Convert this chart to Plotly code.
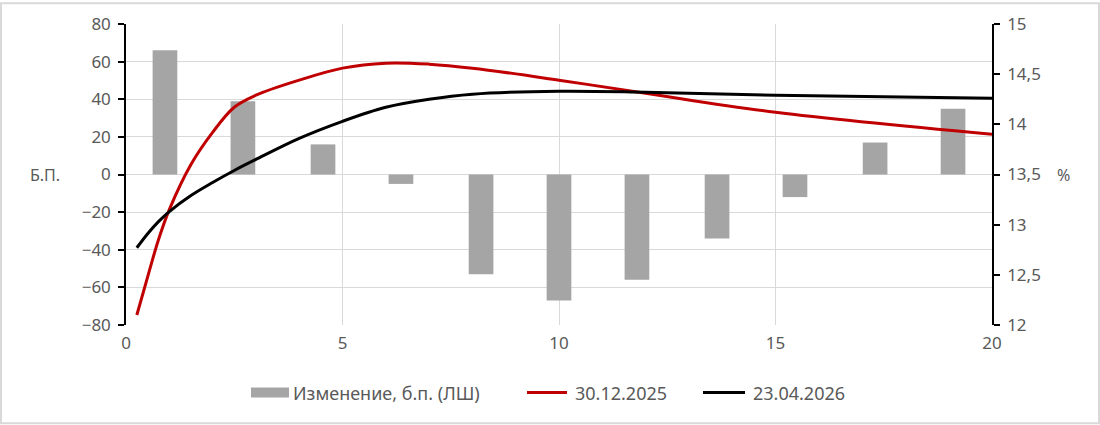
import plotly.graph_objects as go

# срок, лет
tenor = [0.25, 0.5, 0.75, 1, 1.5, 2, 2.5, 3, 4, 5, 6, 7, 8, 10, 12, 15, 20]
# кривые, %
curve_dec = [12.10, 12.48, 12.85, 13.15, 13.60, 13.92, 14.17, 14.29, 14.44, 14.56,
             14.61, 14.60, 14.56, 14.44, 14.31, 14.12, 13.90]
curve_apr = [12.77, 12.91, 13.03, 13.13, 13.29, 13.42, 13.54, 13.65, 13.86, 14.03,
             14.17, 14.25, 14.30, 14.33, 14.32, 14.29, 14.26]

# изменение, б.п. (середины корзин сроков)
bucket_mid = [0.9, 2.7, 4.55, 6.35, 8.2, 10.0, 11.8, 13.65, 15.45, 17.3, 19.1]
change_bp = [66, 39, 16, -5, -53, -67, -56, -34, -12, 17, 35]

names = ['Изменение, б.п. (ЛШ)', '30.12.2025', '23.04.2026']
colors = ['#a5a5a5', '#c00000', '#000000']

grid = '#d9d9d9'
txt = '#595959'
fnt = 'Noto Sans'

bars = go.Bar(x=bucket_mid, y=change_bp, xaxis='x', yaxis='y', width=0.57,
              marker=dict(color=colors[0], line=dict(width=0)), name=names[0])
red = go.Scatter(x=tenor, y=curve_dec, xaxis='x', yaxis='y2', mode='lines',
                 line=dict(color=colors[1], width=3, shape='spline', smoothing=1),
                 name=names[1])
black = go.Scatter(x=tenor, y=curve_apr, xaxis='x', yaxis='y2', mode='lines',
                   line=dict(color=colors[2], width=3, shape='spline', smoothing=1),
                   name=names[2])

W, H = 1100, 425
ml, mr, mt, mb = 126, 108, 22, 100
pw, ph = W - ml - mr, H - mt - mb


def px(x):
    return (x - ml) / pw


def py(y):
    return (H - mb - y) / ph


# легенда вручную: (начало ключа, конец ключа, начало подписи) в пикселях
leg_y = 393
keys = [(251, 289, 293), (527, 567, 575), (703, 745, 753)]
shapes = [
    # рамка вокруг всей картинки
    dict(type='rect', xref='paper', yref='paper', layer='below',
         x0=px(1), x1=px(W - 1), y0=py(H - 1), y1=py(1),
         line=dict(color=grid, width=2), fillcolor='rgba(0,0,0,0)'),
    dict(type='rect', xref='paper', yref='paper', x0=px(keys[0][0]), x1=px(keys[0][1]),
         y0=py(leg_y + 5), y1=py(leg_y - 5), line=dict(width=0), fillcolor=colors[0]),
]
for (a, b, _), c in zip(keys[1:], colors[1:]):
    shapes.append(dict(type='line', xref='paper', yref='paper', x0=px(a), x1=px(b),
                       y0=py(leg_y), y1=py(leg_y), line=dict(color=c, width=3)))

annotations = [
    dict(text='Б.П.', xref='paper', yref='y', x=px(45), y=0, xanchor='center',
         yanchor='middle', showarrow=False, font=dict(family=fnt, size=16, color=txt)),
    dict(text='%', xref='paper', yref='y', x=px(1063), y=0, xanchor='center',
         yanchor='middle', showarrow=False, font=dict(family=fnt, size=16, color=txt)),
]
for (a, b, t), n in zip(keys, names):
    annotations.append(dict(text=n, xref='paper', yref='paper', x=px(t), y=py(leg_y),
                            xanchor='left', yanchor='middle', showarrow=False,
                            xshift=-2, font=dict(family=fnt, size=18, color=txt)))

layout = go.Layout(
    width=W, height=H,
    margin=dict(l=ml, r=mr, t=mt, b=mb),
    paper_bgcolor='white', plot_bgcolor='white',
    separators=', ',
    font=dict(family=fnt, size=17, color=txt),
    showlegend=False,
    xaxis=dict(range=[0, 20], tickvals=[0, 5, 10, 15, 20], showgrid=True, gridcolor=grid,
               gridwidth=1, zeroline=False, showline=False, ticks='', ticklabelstandoff=6),
    yaxis=dict(range=[-80, 80], dtick=20, showgrid=True, gridcolor=grid, zeroline=False,
               showline=True, linecolor='#000000', linewidth=1.5, ticks='outside',
               ticklen=6, tickcolor='#000000', tickwidth=1.5, ticklabelstandoff=4),
    yaxis2=dict(range=[12, 15], dtick=0.5, overlaying='y', side='right', anchor='x',
                showgrid=False, zeroline=False, showline=True, linecolor='#000000',
                linewidth=1.5, ticks='outside', ticklen=6, tickcolor='#000000',
                tickwidth=1.5, ticklabelstandoff=4),
    annotations=annotations,
    shapes=shapes,
)

fig = go.Figure(data=[bars, red, black], layout=layout)
fig.write_html('out.html', config={'displayModeBar': False},
               post_script="document.body.style.margin='0';")
